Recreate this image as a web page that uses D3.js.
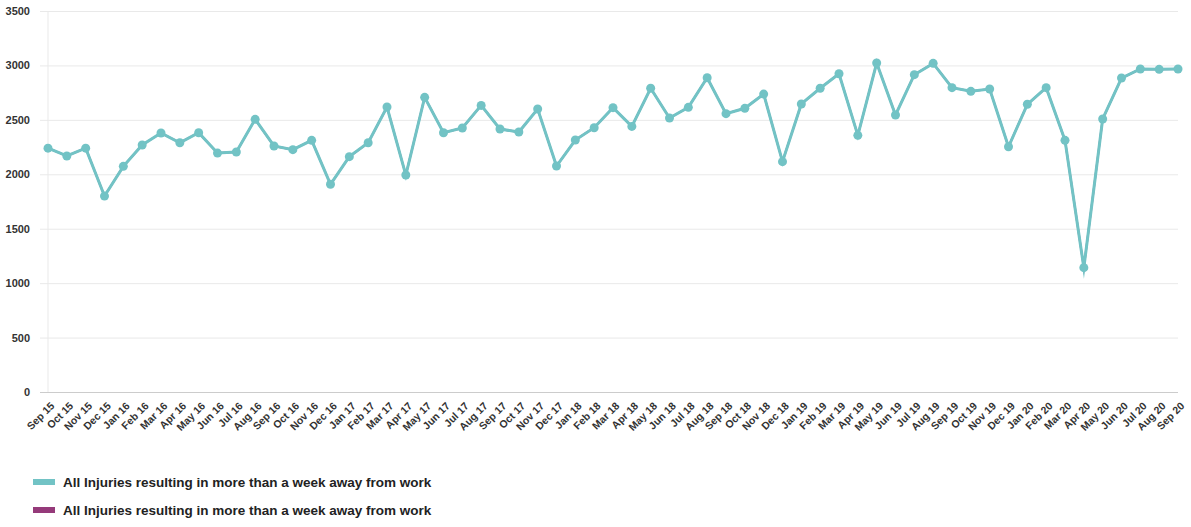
<!DOCTYPE html>
<html>
<head>
<meta charset="utf-8">
<script src="https://cdn.jsdelivr.net/npm/d3@7"></script>
<style>
  body { margin: 0; background: #fff; }
  #chart { width: 1191px; height: 527px; }
</style>
</head>
<body>
<div id="chart"></div>
<script>
const months = [
  "Sep 15", "Oct 15", "Nov 15", "Dec 15",
  "Jan 16", "Feb 16", "Mar 16", "Apr 16", "May 16", "Jun 16", "Jul 16", "Aug 16", "Sep 16", "Oct 16", "Nov 16", "Dec 16",
  "Jan 17", "Feb 17", "Mar 17", "Apr 17", "May 17", "Jun 17", "Jul 17", "Aug 17", "Sep 17", "Oct 17", "Nov 17", "Dec 17",
  "Jan 18", "Feb 18", "Mar 18", "Apr 18", "May 18", "Jun 18", "Jul 18", "Aug 18", "Sep 18", "Oct 18", "Nov 18", "Dec 18",
  "Jan 19", "Feb 19", "Mar 19", "Apr 19", "May 19", "Jun 19", "Jul 19", "Aug 19", "Sep 19", "Oct 19", "Nov 19", "Dec 19",
  "Jan 20", "Feb 20", "Mar 20", "Apr 20", "May 20", "Jun 20", "Jul 20", "Aug 20", "Sep 20"
];

const injuries = [
  2240, 2168, 2240, 1800,
  2073, 2269, 2379, 2290, 2382, 2195, 2205, 2505, 2260, 2226, 2312, 1908,
  2162, 2290, 2618, 1993, 2707, 2382, 2425, 2633, 2416, 2388, 2600, 2076,
  2315, 2428, 2612, 2440, 2790, 2517, 2615, 2887, 2557, 2606, 2737, 2116,
  2646, 2790, 2924, 2358, 3022, 2545, 2915, 3019, 2796, 2762, 2783, 2253,
  2643, 2796, 2312, 1142, 2508, 2884, 2967, 2964, 2967
];

// second series sits exactly under the first one
const injuriesPrev = injuries.slice();

const yTicks = [0, 500, 1000, 1500, 2000, 2500, 3000, 3500];
const seriesNames = [
  "All Injuries resulting in more than a week away from work",
  "All Injuries resulting in more than a week away from work"
];
const seriesColors = ["#72c3c5", "#953a7a"];

const width = 1191, height = 527;
const margin = { top: 11, right: 13, bottom: 135, left: 48 };

const svg = d3.select("#chart").append("svg")
  .attr("width", width)
  .attr("height", height)
  .style("font-family", "'Liberation Sans', Arial, sans-serif");

const x = d3.scalePoint()
  .domain(months)
  .range([margin.left, width - margin.right]);

const y = d3.scaleLinear()
  .domain([0, 3500])
  .range([height - margin.bottom, margin.top]);

// grid lines + y labels
const yAxis = svg.append("g")
  .attr("transform", `translate(${margin.left},0)`)
  .call(d3.axisLeft(y)
    .tickValues(yTicks)
    .tickSize(-(width - margin.right - margin.left) - 8)
    .tickPadding(10)
    .tickFormat(d3.format("d")));
yAxis.select(".domain").remove();
yAxis.selectAll(".tick line")
  .attr("transform", "translate(-8,0)")
  .attr("stroke", (d) => (d === 0 ? "#cccccc" : "#e9e9e9"));
yAxis.selectAll(".tick text")
  .attr("x", -18)
  .attr("fill", "#333")
  .attr("font-size", "11px")
  .attr("font-weight", "bold");

// vertical axis line
svg.append("line")
  .attr("x1", margin.left).attr("x2", margin.left)
  .attr("y1", y(3500)).attr("y2", y(0))
  .attr("stroke", "#e9e9e9");

// x labels
const xAxis = svg.append("g")
  .attr("transform", `translate(0,${y(0)})`)
  .call(d3.axisBottom(x).tickSize(0).tickPadding(0));
xAxis.select(".domain").remove();
xAxis.selectAll(".tick text")
  .attr("text-anchor", "end")
  .attr("fill", "#333")
  .attr("font-size", "10.5px")
  .attr("font-weight", "bold")
  .attr("dy", "0.35em")
  .attr("transform", "translate(4,12) rotate(-45)");

const line = d3.line()
  .x((d, i) => x(months[i]))
  .y((d) => y(d));

[injuriesPrev, injuries].forEach((series, k) => {
  const color = seriesColors[1 - k];
  const w = k === 0 ? 2 : 3;
  svg.append("path")
    .datum(series)
    .attr("d", line)
    .attr("fill", "none")
    .attr("stroke", color)
    .attr("stroke-width", w)
    .attr("stroke-linejoin", "miter")
    .attr("stroke-miterlimit", 10);

  svg.append("g")
    .selectAll("circle")
    .data(series)
    .join("circle")
    .attr("cx", (d, i) => x(months[i]))
    .attr("cy", (d) => y(d))
    .attr("r", k === 0 ? 3.5 : 4.5)
    .attr("fill", color);
});

// legend
const legend = svg.append("g")
  .selectAll("g")
  .data(seriesNames)
  .join("g")
  .attr("transform", (d, i) => `translate(33,${479 + i * 28})`);

legend.append("rect")
  .attr("width", 22)
  .attr("height", 6)
  .attr("fill", (d, i) => seriesColors[i]);

legend.append("text")
  .attr("x", 30)
  .attr("y", 3)
  .attr("dy", "0.35em")
  .attr("fill", "#222")
  .attr("font-size", "13.5px")
  .attr("font-weight", "bold")
  .text((d) => d);
</script>
</body>
</html>
